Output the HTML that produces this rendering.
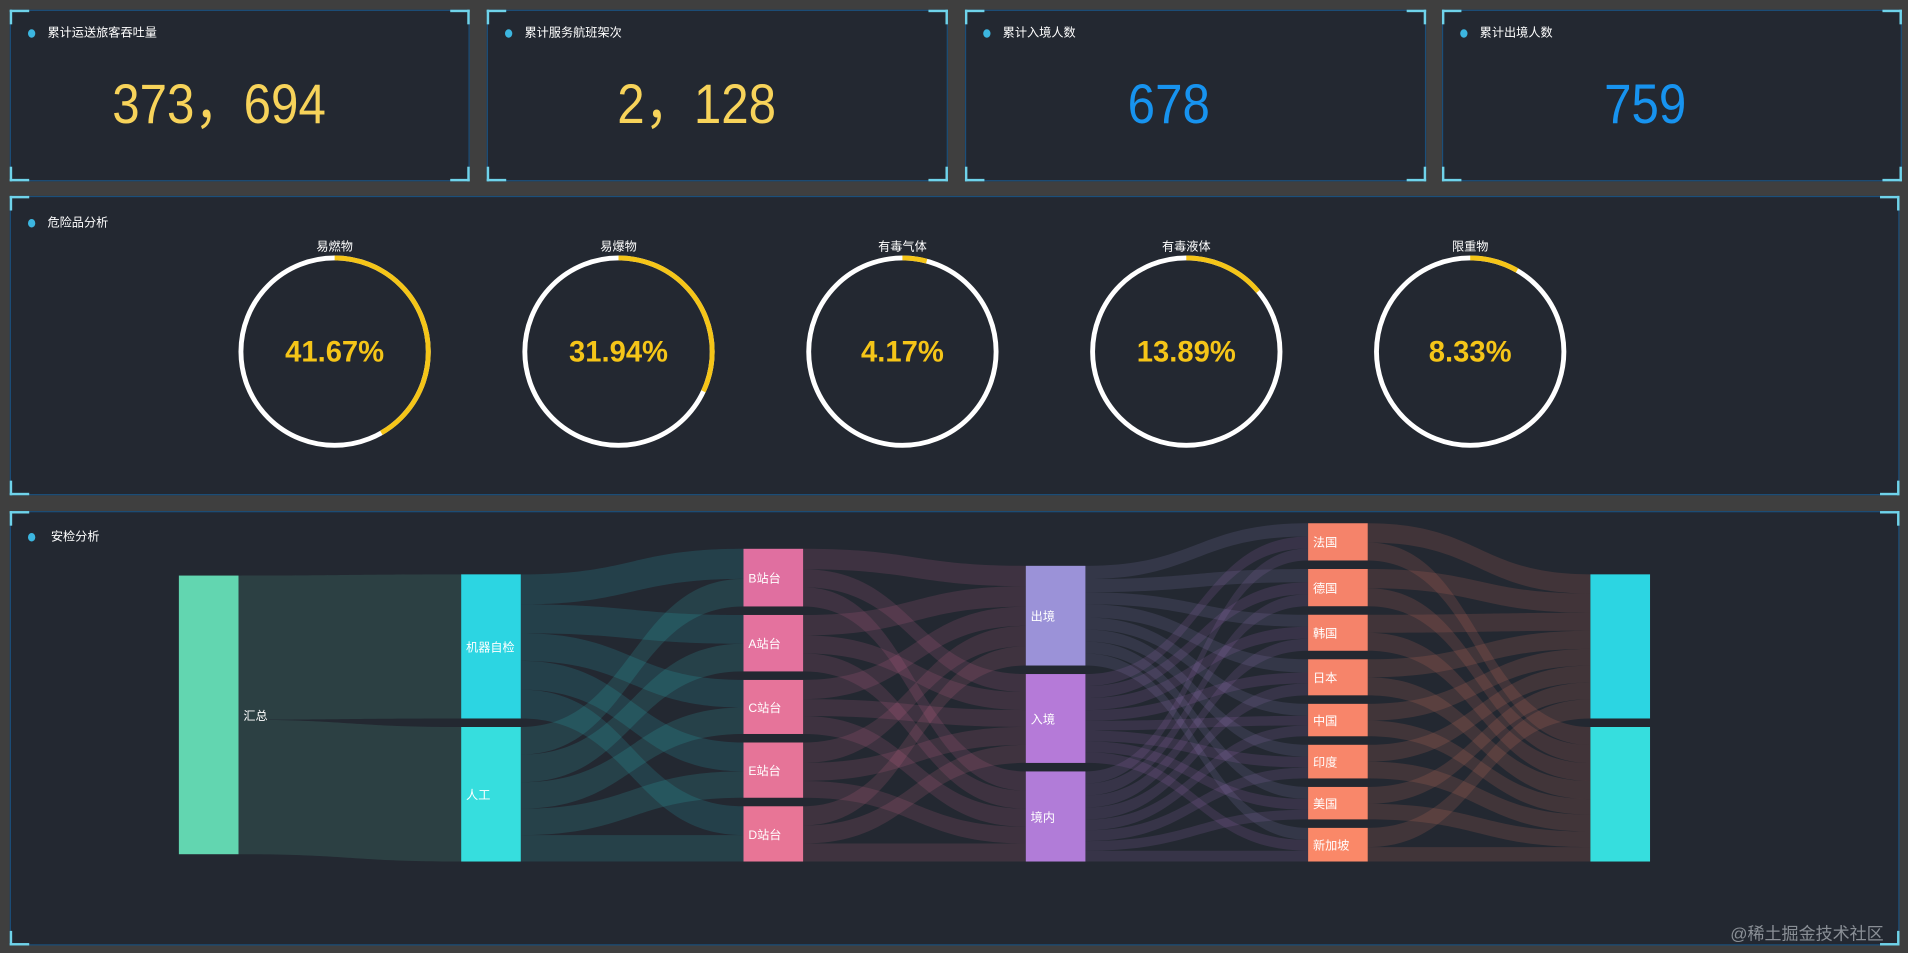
<!DOCTYPE html>
<html><head><meta charset="utf-8">
<style>
html,body{margin:0;padding:0;background:#3f3f3f;overflow:hidden;}
body{width:1908px;height:952px;font-family:"Liberation Sans","Noto Sans CJK SC",sans-serif;}
#wrap{position:absolute;left:0;top:0;width:1568px;height:783px;transform-origin:0 0;transform:scale(1.21684);}
.card{position:absolute;background:#232831;border:1px solid #1b4f7a;box-sizing:border-box;}
.c{position:absolute;width:14px;height:10px;border-color:#6fd3ea;border-style:solid;border-width:0;}
.tl{left:-1px;top:-1px;border-left-width:2px;border-top-width:2px;}
.tr{right:-1px;top:-1px;border-right-width:2px;border-top-width:2px;}
.bl{left:-1px;bottom:-1px;border-left-width:2px;border-bottom-width:2px;}
.br{right:-1px;bottom:-1px;border-right-width:2px;border-bottom-width:2px;}
.title{position:absolute;left:14px;top:12px;color:#fff;font-size:10px;line-height:14px;}
.title:before{content:"";display:inline-block;width:6px;height:7px;border-radius:50%;background:#3cb6e0;margin-right:10px;vertical-align:-1px;}
.num{position:absolute;top:48px;left:-17px;width:100%;text-align:center;font-size:46px;line-height:56px;font-family:"Liberation Sans","Noto Sans CJK SC",sans-serif;transform:scaleX(0.88);}
</style></head><body>
<div id="wrap">
 <div class="card" style="left:8px;top:8px;width:378px;height:141px">
  <i class="c tl"></i><i class="c tr"></i><i class="c bl"></i><i class="c br"></i>
  <div class="title">累计运送旅客吞吐量</div>
  <div class="num" style="color:#f7d35a">373，694</div>
 </div>
 <div class="card" style="left:400px;top:8px;width:379px;height:141px">
  <i class="c tl"></i><i class="c tr"></i><i class="c bl"></i><i class="c br"></i>
  <div class="title">累计服务航班架次</div>
  <div class="num" style="color:#f7d35a">2，128</div>
 </div>
 <div class="card" style="left:793px;top:8px;width:379px;height:141px">
  <i class="c tl"></i><i class="c tr"></i><i class="c bl"></i><i class="c br"></i>
  <div class="title">累计入境人数</div>
  <div class="num" style="color:#1793ef;left:-22px">678</div>
 </div>
 <div class="card" style="left:1185px;top:8px;width:378px;height:141px">
  <i class="c tl"></i><i class="c tr"></i><i class="c bl"></i><i class="c br"></i>
  <div class="title">累计出境人数</div>
  <div class="num" style="color:#1793ef;left:-22px">759</div>
 </div>
 <div class="card" style="left:8px;top:161px;width:1553px;height:246px">
  <i class="c tl"></i><i class="c tr"></i><i class="c bl"></i><i class="c br"></i>
  <div class="title" style="top:15px">危险品分析</div>
 </div>
 <div class="card" style="left:8px;top:420px;width:1553px;height:357px">
  <i class="c tl"></i><i class="c tr"></i><i class="c bl"></i><i class="c br"></i>
  <div class="title" style="top:14px">&nbsp;安检分析</div>
 </div>
 <svg id="svg" width="1568" height="783" style="position:absolute;left:0;top:0"></svg>
</div>
<script>
// Ring data
const ringLabels=["易燃物","易爆物","有毒气体","有毒液体","限重物"];
const ringValues=[41.67,31.94,4.17,13.89,8.33];
// Sankey data
const nodeNames=["汇总","机器自检","人工","B站台","A站台","C站台","E站台","D站台","出境","入境","境内","法国","德国","韩国","日本","中国","印度","美国","新加坡","out1","out2"];
const nodeColumns=[0,1,1,2,2,2,2,2,3,3,3,4,4,4,4,4,4,4,4,5,5];
const linkSources=[0,0, 1,1,1,1,1, 2,2,2,2,2, 3,3,3,4,4,4,5,5,5,6,6,6,7,7,7,
 8,8,8,8,8,8,8,8, 9,9,9,9,9,9,9,9, 10,10,10,10,10,10,10,10,
 11,11,12,12,13,13,14,14,15,15,16,16,17,17,18,18];
const linkTargets=[1,2, 3,4,5,6,7, 3,4,5,6,7, 8,9,10,8,9,10,8,9,10,8,9,10,8,9,10,
 11,12,13,14,15,16,17,18, 11,12,13,14,15,16,17,18, 11,12,13,14,15,16,17,18,
 19,20,19,20,19,20,19,20,19,20,19,20,19,20,19,20];
const linkValues=[120,112, 25,24,23,24,24, 23,23,22,22,22, 17,15,16,17,15,15,16,14,15,17,15,14,16,15,15,
 11,11,10,11,10,10,10,10, 10,10,10,9,8,9,9,9, 10,10,10,10,9,9,8,9,
 16,15,16,15,15,15,15,15,14,13,14,14,14,13,16,12];

const NS="http://www.w3.org/2000/svg";
const svg=document.getElementById('svg');
function mk(t,a){const e=document.createElementNS(NS,t);for(const k in a)e.setAttribute(k,a[k]);return e;}

// rings
const ringX0=275, ringDX=233.3, ringY=289, R=77;
ringLabels.forEach((lab,i)=>{
 const cx=ringX0+i*ringDX;
 const g=mk('g',{});
 
 
 const c=mk('circle',{cx:cx,cy:ringY,r:R,fill:'none',stroke:'#fff','stroke-width':4});
 g.appendChild(c);
 const circ=2*Math.PI*R, len=circ*ringValues[i]/100;
 const arc=mk('circle',{cx:cx,cy:ringY,r:R,fill:'none',stroke:'#f5c518','stroke-width':4,
  'stroke-dasharray':len+' '+circ,transform:'rotate(-90 '+cx+' '+ringY+')'});
 
 
 g.appendChild(arc);
 const t=mk('text',{x:cx,y:206,fill:'#fff','font-size':10,'text-anchor':'middle'});
 t.textContent=lab;
 
 
 g.appendChild(t);
 const v=mk('text',{x:cx,y:297,fill:'#f5c518','font-size':24,'font-weight':'bold','text-anchor':'middle'});
 v.textContent=ringValues[i].toFixed(2)+'%';
 
 
 g.appendChild(v);
 svg.appendChild(g);
});

// sankey
const colX=[147,379,611,843,1075,1307], NW=49, TOP=430, BOT=708, GAP=7;
const nodeColors=["#62d6b0","#2cd5e2","#36dede","#e06fa0","#e4729e","#e6749a","#e67498","#e87596","#9b92d8","#b57ad8","#b17cd8","#f5836a","#f5836a","#f5836a","#f6846a","#f8856a","#f8866a","#f9876a","#fa8868","#2cd5e2","#36dede"];
const N=nodeNames.length, inV=new Array(N).fill(0), outV=new Array(N).fill(0);
linkValues.forEach((v,i)=>{outV[linkSources[i]]+=v;inV[linkTargets[i]]+=v;});
const val=nodeNames.map((_,i)=>Math.max(inV[i],outV[i]));
const cols=[[],[],[],[],[],[]];nodeColumns.forEach((c,i)=>cols[c].push(i));
let k=Infinity;
cols.forEach(c=>{const s=c.reduce((a,i)=>a+val[i],0);k=Math.min(k,(BOT-TOP-(c.length-1)*GAP)/s);});
const ny=[],nh=[];
cols.forEach((c,ci)=>{const s=c.reduce((a,i)=>a+val[i]*k,0)+(c.length-1)*GAP;let y=(ci===0?BOT-6:BOT)-s;
 c.forEach(i=>{ny[i]=y;nh[i]=val[i]*k;y+=nh[i]+GAP;});});
const outOff=ny.slice(), inOff=ny.slice();
const order=linkValues.map((_,i)=>i);
const srcY=[],tgtY=[];
order.slice().sort((a,b)=>linkSources[a]-linkSources[b]||ny[linkTargets[a]]-ny[linkTargets[b]]).forEach(i=>{srcY[i]=outOff[linkSources[i]];outOff[linkSources[i]]+=linkValues[i]*k;});
order.slice().sort((a,b)=>linkTargets[a]-linkTargets[b]||ny[linkSources[a]]-ny[linkSources[b]]).forEach(i=>{tgtY[i]=inOff[linkTargets[i]];inOff[linkTargets[i]]+=linkValues[i]*k;});
const lg=mk('g',{});


svg.appendChild(lg);
linkValues.forEach((v,i)=>{
 const s=linkSources[i],t=linkTargets[i],h=v*k;
 const x0=colX[nodeColumns[s]]+NW,x1=colX[nodeColumns[t]],xm=(x0+x1)/2;
 const y0=srcY[i],y1=tgtY[i];
 const d=`M${x0},${y0}C${xm},${y0} ${xm},${y1} ${x1},${y1}L${x1},${y1+h}C${xm},${y1+h} ${xm},${y0+h} ${x0},${y0+h}Z`;
 const p=mk('path',{d:d,fill:nodeColors[s],'fill-opacity':0.14});
 
 
 lg.appendChild(p);
});
nodeNames.forEach((n,i)=>{
 const r=mk('rect',{x:colX[nodeColumns[i]],y:ny[i],width:NW,height:nh[i],fill:nodeColors[i]});
 
 
 svg.appendChild(r);
 if(nodeColumns[i]<5){
  const inside=nodeColumns[i]>0;
  const t=mk('text',{x:colX[nodeColumns[i]]+(inside?4:NW+4),y:ny[i]+nh[i]/2+4,fill:'#fff','font-size':10});
  t.textContent=n;
  
  
  svg.appendChild(t);
 }
});
const wm=mk('text',{x:1548,y:772,fill:'#8a8f96','font-size':14,'text-anchor':'end'});
wm.textContent='@稀土掘金技术社区';


svg.appendChild(wm);
</script>
</body></html>
